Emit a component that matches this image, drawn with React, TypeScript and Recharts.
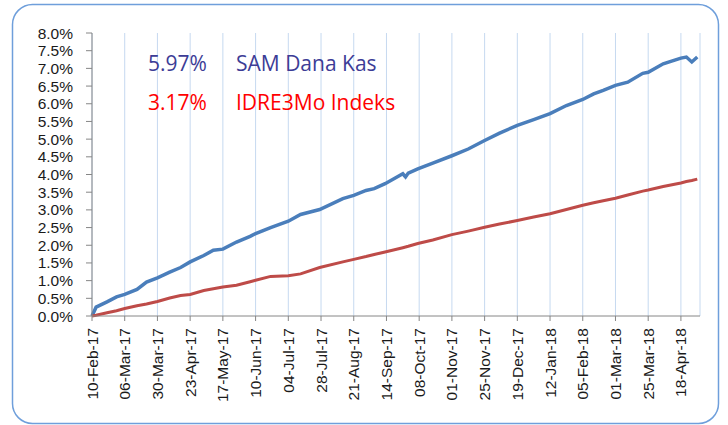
import React from 'react';
import {
  LineChart,
  Line,
  XAxis,
  YAxis,
  CartesianGrid,
} from 'recharts';

// days since 10-Feb-17
const DAYS = [
  0, 3, 11, 18, 24, 33, 40, 48, 57, 65, 72, 82, 89, 96, 106, 116, 120, 131, 144, 153,
  167, 184, 192, 201, 207, 215, 228, 230, 232, 239, 250, 264, 276, 288, 299, 312, 324,
  336, 348, 360, 368, 375, 384, 393, 404, 408, 419, 432, 436, 440, 444,
];

// SAM Dana Kas, cumulative return in %
const SAM_DANA_KAS = [
  0, 0.25, 0.4, 0.54, 0.61, 0.75, 0.96, 1.08, 1.24, 1.37, 1.53, 1.71, 1.86, 1.89, 2.09,
  2.25, 2.33, 2.5, 2.68, 2.87, 3.01, 3.32, 3.41, 3.55, 3.6, 3.74, 4.02, 3.93, 4.04, 4.16,
  4.32, 4.53, 4.72, 4.96, 5.17, 5.39, 5.55, 5.72, 5.95, 6.12, 6.28, 6.38, 6.52, 6.61,
  6.86, 6.89, 7.13, 7.29, 7.32, 7.18, 7.32,
];

// IDRE3Mo Indeks, cumulative return in %
const IDRE3MO = [
  0, 0.02, 0.09, 0.15, 0.21, 0.29, 0.34, 0.41, 0.51, 0.58, 0.61, 0.72, 0.77, 0.82, 0.87,
  0.97, 1.01, 1.12, 1.14, 1.19, 1.37, 1.53, 1.6, 1.68, 1.74, 1.81, 1.93, 1.95, 1.97, 2.05,
  2.15, 2.3, 2.4, 2.51, 2.6, 2.7, 2.8, 2.89, 3.01, 3.13, 3.2, 3.26, 3.33, 3.42, 3.53,
  3.56, 3.66, 3.76, 3.8, 3.83, 3.87,
];

const X_TICKS = [0, 24, 48, 72, 96, 120, 144, 168, 192, 216, 240, 264, 288, 312, 336, 360, 384, 408, 432];
const Y_TICKS = [0, 0.5, 1, 1.5, 2, 2.5, 3, 3.5, 4, 4.5, 5, 5.5, 6, 6.5, 7, 7.5, 8];

const MONTHS = ['Jan', 'Feb', 'Mar', 'Apr', 'May', 'Jun', 'Jul', 'Aug', 'Sep', 'Oct', 'Nov', 'Dec'];
const START = Date.UTC(2017, 1, 10);

const data = DAYS.map((day, i) => ({
  day,
  sam: SAM_DANA_KAS[i],
  idre: IDRE3MO[i],
}));

const formatDay = (d: number) => {
  const dt = new Date(START + d * 86400000);
  const dd = String(dt.getUTCDate()).padStart(2, '0');
  const yy = String(dt.getUTCFullYear()).slice(2);
  return `${dd}-${MONTHS[dt.getUTCMonth()]}-${yy}`;
};

const AXIS_FONT = '"Liberation Sans", Arial, sans-serif';

const XTick = (props: any) => {
  const { x, y, payload } = props;
  return (
    <text
      x={x}
      y={y}
      transform={`rotate(-90 ${x} ${y})`}
      textAnchor="end"
      dy="0.36em"
      fontSize={15.5}
      fontFamily={AXIS_FONT}
      fill="#1a1a1a"
    >
      {formatDay(payload.value)}
    </text>
  );
};

const App: React.FC = () => {
  return (
    <div style={{ position: 'relative', width: 728, height: 425, background: '#fff' }}>
      <style>{'body{margin:0}'}</style>
      <LineChart
        width={728}
        height={425}
        data={data}
        margin={{ top: 33, right: 28, left: 0, bottom: 9 }}
      >
        <CartesianGrid horizontal={false} stroke="#c6d9f0" strokeWidth={1} />
        <XAxis
          dataKey="day"
          type="number"
          domain={[0, 446]}
          ticks={X_TICKS}
          interval={0}
          height={100}
          tickSize={5}
          tickMargin={7}
          tick={<XTick />}
          stroke="#868686"
        />
        <YAxis
          type="number"
          domain={[0, 8]}
          ticks={Y_TICKS}
          interval={0}
          width={92}
          tickSize={6}
          tickMargin={13}
          tickFormatter={(v: number) => `${v.toFixed(1)}%`}
          tick={{ fontSize: 15.5, fontFamily: AXIS_FONT, fill: '#1a1a1a' }}
          stroke="#868686"
        />
        <Line
          type="linear"
          dataKey="sam"
          stroke="#4a7ebb"
          strokeWidth={3.5}
          dot={false}
          isAnimationActive={false}
        />
        <Line
          type="linear"
          dataKey="idre"
          stroke="#be4b48"
          strokeWidth={3}
          dot={false}
          isAnimationActive={false}
        />
      </LineChart>
      <svg
        width={728}
        height={425}
        style={{ position: 'absolute', left: 0, top: 0, pointerEvents: 'none' }}
      >
        <rect x={12.5} y={4.5} width={706} height={419} rx={20} fill="none" stroke="#6f9fdb" strokeWidth={1.5} />
        <g fontFamily='"Open Sans", sans-serif' fontSize={21}>
          <text x={148} y={71} fill="#3c3c96">5.97%</text>
          <text x={236} y={71} fill="#3c3c96">SAM Dana Kas</text>
          <text x={148} y={110} fill="#ff0000">3.17%</text>
          <text x={236} y={110} fill="#ff0000">IDRE3Mo Indeks</text>
        </g>
      </svg>
    </div>
  );
};

export default App;
